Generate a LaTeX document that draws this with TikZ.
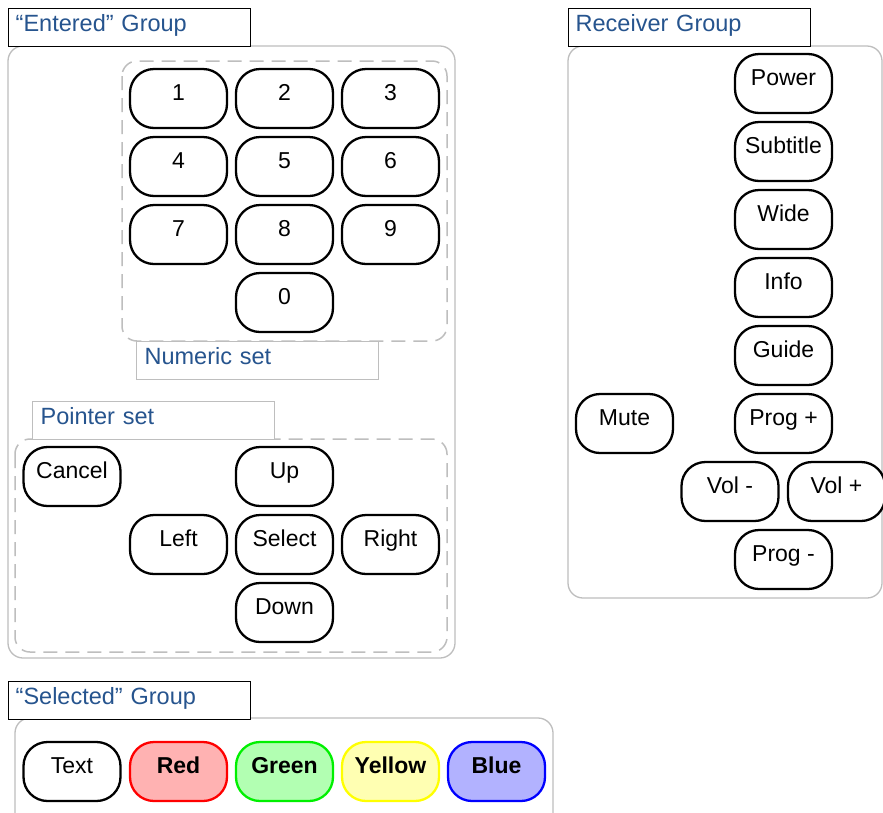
\documentclass[tikz,border=0pt]{standalone}
\usepackage{fontspec}
\setmainfont{Liberation Sans}
\definecolor{titleblue}{RGB}{38,84,142}
\definecolor{grpgray}{RGB}{190,190,190}
\definecolor{redfill}{RGB}{255,178,178}
\definecolor{greenfill}{RGB}{178,255,178}
\definecolor{yellowfill}{RGB}{255,255,178}
\definecolor{bluefill}{RGB}{178,178,255}
\definecolor{greenline}{RGB}{0,240,0}
\definecolor{yellowline}{RGB}{255,255,0}
\tikzset{
  btn/.style={draw=black, fill=white, line width=2.3pt, rounded corners=24pt,
    minimum width=97pt, minimum height=59pt, inner sep=0pt,
    text height=17.2pt, text depth=14pt, font=\fontsize{23}{27}\selectfont},
  grp/.style={draw=grpgray, line width=1.3pt, rounded corners=15pt},
  dgrp/.style={draw=grpgray, line width=1.5pt, rounded corners=15pt, dash pattern=on 14pt off 8pt},
  ttl/.style={draw=black, fill=white, line width=1.4pt, anchor=north west,
    minimum height=38pt, inner xsep=7pt, inner ysep=0pt, text width=228pt, align=left,
    text height=17.2pt, text depth=10.2pt, text=titleblue, font=\fontsize{23.5}{27}\selectfont},
  subttl/.style={ttl, draw=grpgray, line width=1.2pt, inner xsep=8pt, text width=226pt}
}
\begin{document}
\begin{tikzpicture}[x=1pt,y=-1pt]
\clip (0,0) rectangle (883,812);
\fill[white] (0,0) rectangle (883,812);
% group frames
\draw[grp] (8,46) rectangle (455,658);
\draw[grp] (568,46) rectangle (882,598);
\draw[grp] (15,718) rectangle (553,840);
\draw[dgrp] (122,61) rectangle (447,341);
\draw[dgrp] (15,439) rectangle (447,652);
% titles
\node[ttl] (tEntered) at (8,8) {“Entered” Group};
\node[ttl] (tReceiver) at (568,8) {Receiver Group};
\node[ttl] (tSelected) at (8,681) {“Selected” Group};
\node[subttl] (tNumeric) at (136,341) {Numeric set};
\node[subttl] (tPointer) at (32,401) {Pointer set};
% numeric keys
\node[btn] (k1) at (178.5,98.5) {1};
\node[btn] (k2) at (284.5,98.5) {2};
\node[btn] (k3) at (390.5,98.5) {3};
\node[btn] (k4) at (178.5,166.5) {4};
\node[btn] (k5) at (284.5,166.5) {5};
\node[btn] (k6) at (390.5,166.5) {6};
\node[btn] (k7) at (178.5,234.5) {7};
\node[btn] (k8) at (284.5,234.5) {8};
\node[btn] (k9) at (390.5,234.5) {9};
\node[btn] (k0) at (284.5,302.5) {0};
% pointer keys
\node[btn] (cancel) at (72,476.5) {Cancel};
\node[btn] (up) at (284.5,476.5) {Up};
\node[btn] (left) at (178.5,544.5) {Left};
\node[btn] (select) at (284.5,544.5) {Select};
\node[btn] (right) at (390.5,544.5) {Right};
\node[btn] (down) at (284.5,612.5) {Down};
% receiver keys
\node[btn] (power) at (783.5,83.5) {Power};
\node[btn] (subtitle) at (783.5,151.5) {Subtitle};
\node[btn] (wide) at (783.5,219.5) {Wide};
\node[btn] (info) at (783.5,287.5) {Info};
\node[btn] (guide) at (783.5,355.5) {Guide};
\node[btn] (progp) at (783.5,423.5) {Prog +};
\node[btn] (mute) at (624.5,423.5) {Mute};
\node[btn] (volm) at (730,491.5) {Vol -};
\node[btn] (volp) at (836.5,491.5) {Vol +};
\node[btn] (progm) at (783.5,559.5) {Prog -};
% selected keys
\node[btn] (text) at (72,771.5) {Text};
\node[btn, draw=red, fill=redfill] (red) at (178.5,771.5) {\textbf{Red}};
\node[btn, draw=greenline, fill=greenfill] (green) at (284.5,771.5) {\textbf{Green}};
\node[btn, draw=yellowline, fill=yellowfill] (yellow) at (390.5,771.5) {\textbf{Yellow}};
\node[btn, draw=blue, fill=bluefill] (bluek) at (496.5,771.5) {\textbf{Blue}};
\end{tikzpicture}
\end{document}
